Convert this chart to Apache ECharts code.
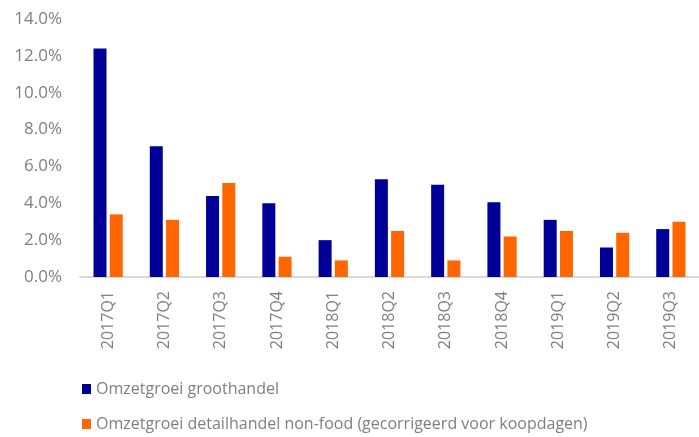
<!DOCTYPE html>
<html>
<head>
<meta charset="utf-8">
<script src="https://cdn.jsdelivr.net/npm/echarts@6/dist/echarts.min.js"></script>
<style>
  html, body { margin: 0; padding: 0; background: #fff; }
  #chart { width: 699px; height: 437px; }
</style>
</head>
<body>
<div id="chart"></div>
<script>
const categories = ['2017Q1', '2017Q2', '2017Q3', '2017Q4', '2018Q1', '2018Q2', '2018Q3', '2018Q4', '2019Q1', '2019Q2', '2019Q3']
const groothandel = [12.4, 7.1, 4.4, 4.0, 2.0, 5.3, 5.0, 4.05, 3.1, 1.6, 2.6]
const detailhandel = [3.4, 3.1, 5.1, 1.1, 0.9, 2.5, 0.9, 2.2, 2.5, 2.4, 3.0]
const seriesNames = ['Omzetgroei groothandel', 'Omzetgroei detailhandel non-food (gecorrigeerd voor koopdagen)']

const FONT = '"Open Sans", sans-serif'
const TEXT_COLOR = '#7f7f7f'

const chart = echarts.init(document.getElementById('chart'))

// één legenda per regel, onder elkaar
const legendBase = {
  left: 82,
  padding: 0,
  itemWidth: 9,
  itemHeight: 10,
  itemGap: 4,
  icon: 'rect',
  textStyle: { fontFamily: FONT, fontSize: 16, color: TEXT_COLOR },
}

chart.setOption({
  animation: false,
  grid: { left: 80, top: 19, bottom: 160, width: 623 },
  legend: [
    { ...legendBase, top: 381, data: [seriesNames[0]] },
    { ...legendBase, top: 416, data: [seriesNames[1]] },
  ],
  xAxis: {
    type: 'category',
    data: categories,
    axisLine: { lineStyle: { color: '#d9d9d9', width: 2 } },
    axisTick: { show: false },
    axisLabel: { rotate: 90, margin: 14, fontFamily: FONT, fontSize: 16, color: TEXT_COLOR },
  },
  yAxis: {
    type: 'value',
    min: 0,
    max: 14,
    interval: 2,
    splitLine: { show: false },
    axisLine: { show: false },
    axisLabel: {
      margin: 18,
      fontFamily: FONT,
      fontSize: 17,
      color: TEXT_COLOR,
      formatter: v => v.toFixed(1) + '%',
    },
  },
  series: [
    {
      name: seriesNames[0],
      type: 'bar',
      data: groothandel,
      barWidth: 13,
      barGap: '25%',
      itemStyle: { color: '#000099' },
    },
    {
      name: seriesNames[1],
      type: 'bar',
      data: detailhandel,
      barWidth: 13,
      itemStyle: { color: '#ff6600' },
    },
  ],
})
</script>
</body>
</html>
